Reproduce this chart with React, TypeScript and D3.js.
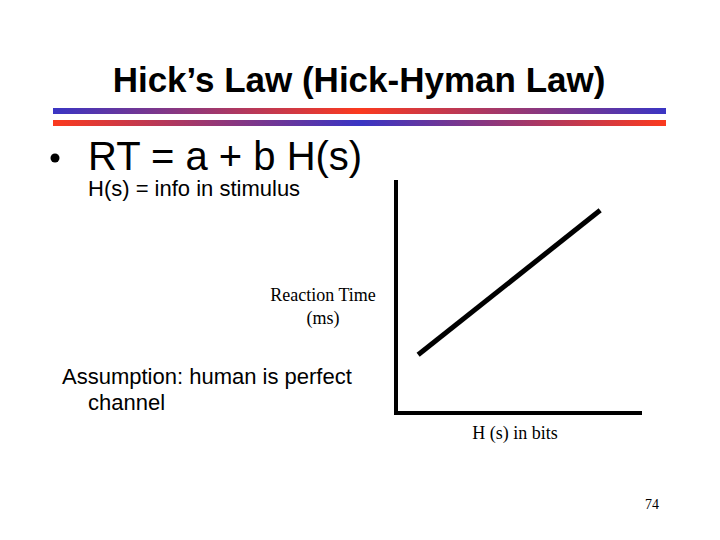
import React from "react";
import * as d3 from "d3";

// line end points (arbitrary units)
const hBits: number[] = [0.9, 8.3];
const rtValues: number[] = [2.5, 8.7];

const title = "Hick\u2019s Law (Hick-Hyman Law)";
const formula = "RT = a + b H(s)";
const formulaNote = "H(s) = info in stimulus";
const yLabel = ["Reaction Time", "(ms)"];
const xLabel = "H (s) in bits";
const assumption = ["Assumption: human is perfect", "channel"];
const pageNo = "74";

const width = 720;
const height = 540;
const originX = 396;
const originY = 413;
const axisRight = 642;
const axisTop = 180;

const sans = "Arial, 'Liberation Sans', sans-serif";
const serif = "'Times New Roman', 'Liberation Serif', serif";

const App = () => {
  const x = d3.scaleLinear().domain([0, 10]).range([originX, axisRight]);
  const y = d3.scaleLinear().domain([0, 10]).range([originY, axisTop]);

  const pts: [number, number][] = hBits.map((h, i) => [h, rtValues[i]]);
  const line = d3
    .line<[number, number]>()
    .x((d) => x(d[0]))
    .y((d) => y(d[1]));

  const axisPath = d3.path();
  axisPath.moveTo(x(0), y(10));
  axisPath.lineTo(x(0), y(0));
  axisPath.lineTo(x(10), y(0));

  return (
    <svg
      width={width}
      height={height}
      style={{ position: "absolute", left: 0, top: 0, background: "#fff" }}
    >
      <defs>
        <linearGradient id="barTop" x1="0" x2="1" y1="0" y2="0">
          <stop offset="0" stopColor="#3a35c4" />
          <stop offset="0.5" stopColor="#fb3a1e" />
          <stop offset="1" stopColor="#3a35c4" />
        </linearGradient>
        <linearGradient id="barBottom" x1="0" x2="1" y1="0" y2="0">
          <stop offset="0" stopColor="#fb3a1e" />
          <stop offset="0.5" stopColor="#3a35c4" />
          <stop offset="1" stopColor="#fb3a1e" />
        </linearGradient>
      </defs>

      <text
        x={359}
        y={92}
        textAnchor="middle"
        fontFamily={sans}
        fontWeight="bold"
        fontSize={35}
      >
        {title}
      </text>
      <rect x={53} y={108} width={613} height={6} fill="url(#barTop)" />
      <rect x={53} y={120} width={613} height={6} fill="url(#barBottom)" />

      <circle cx={55} cy={158} r={4.5} fill="#000" />
      <text x={88} y={170} fontFamily={sans} fontSize={40}>
        {formula}
      </text>
      <text x={88} y={196} fontFamily={sans} fontSize={22}>
        {formulaNote}
      </text>

      <g fontFamily={serif} fontSize={18} textAnchor="middle">
        {yLabel.map((t, i) => (
          <text key={i} x={323} y={301 + i * 23}>
            {t}
          </text>
        ))}
      </g>

      <text x={62} y={384} fontFamily={sans} fontSize={22}>
        {assumption[0]}
      </text>
      <text x={88} y={410} fontFamily={sans} fontSize={22}>
        {assumption[1]}
      </text>

      <path
        d={axisPath.toString()}
        fill="none"
        stroke="#000"
        strokeWidth={4}
      />
      <path
        d={line(pts) as string}
        fill="none"
        stroke="#000"
        strokeWidth={5}
      />

      <text
        x={515}
        y={439}
        textAnchor="middle"
        fontFamily={serif}
        fontSize={18}
      >
        {xLabel}
      </text>

      <text x={652} y={509} textAnchor="middle" fontFamily={serif} fontSize={14}>
        {pageNo}
      </text>
    </svg>
  );
};

export default App;
